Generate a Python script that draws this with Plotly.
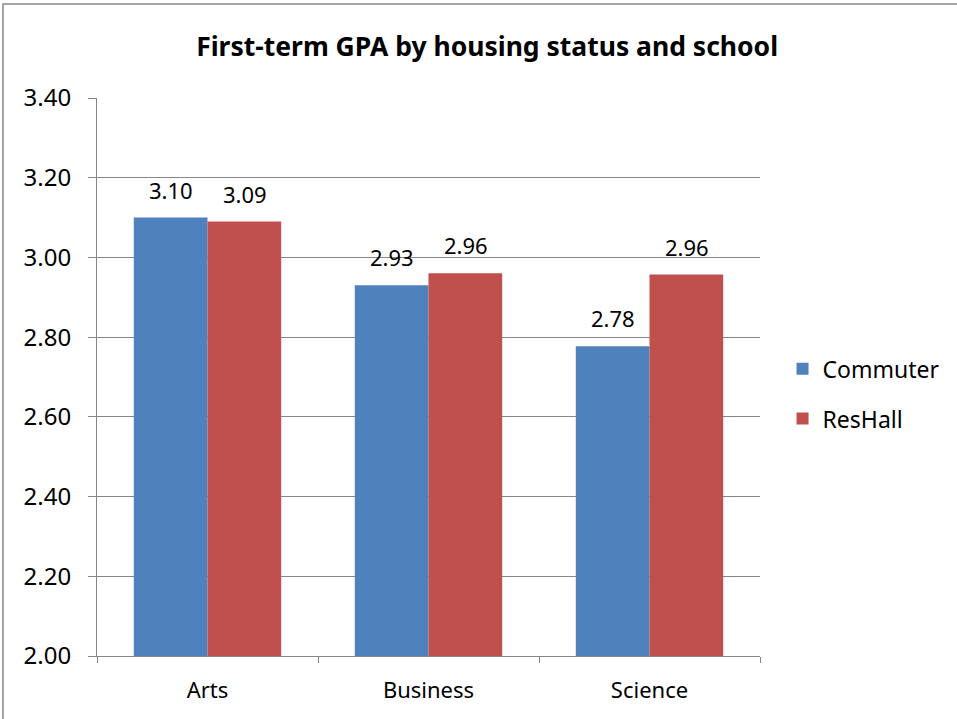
import plotly.graph_objects as go

schools = ["Arts", "Business", "Science"]
commuter = [3.10, 2.93, 2.777]
reshall = [3.09, 2.96, 2.957]
y_ticks = [2.0, 2.2, 2.4, 2.6, 2.8, 3.0, 3.2, 3.4]
y_tick_labels = ["2.00", "2.20", "2.40", "2.60", "2.80", "3.00", "3.20", "3.40"]

FONT = "Noto Sans"
GRID = "#868686"

fig = go.Figure()
series = [("Commuter", commuter, "#4F81BD", -37), ("ResHall", reshall, "#C0504D", 37)]
for name, vals, color, dx in series:
    fig.add_trace(go.Bar(
        name=name, x=schools, y=vals, marker=dict(color=color, line=dict(width=0)),
        legendgroup=name, hoverinfo="x+y+name",
    ))
    for s, v in zip(schools, vals):
        fig.add_annotation(x=s, y=v, xref="x", yref="y", text=f"{v:.2f}",
                           showarrow=False, xshift=dx, yshift=28, yanchor="middle",
                           font=dict(family=FONT, size=22, color="black"))

fig.update_layout(
    width=957, height=719,
    margin=dict(l=97, r=197, t=98, b=63),
    paper_bgcolor="white", plot_bgcolor="white",
    barmode="group", bargap=0.333, bargroupgap=0,
    title=dict(text="<b>First-term GPA by housing status and school</b>",
               font=dict(family=FONT, size=26.5, color="black"),
               x=0.509, xanchor="center", y=0.935, yanchor="middle"),
    legend=dict(x=1.034, xanchor="left", y=0.47, yanchor="middle",
                font=dict(family=FONT, size=23, color="black"),
                traceorder="grouped", tracegroupgap=17, itemwidth=30),
    showlegend=True,
)
fig.update_yaxes(range=[2.0, 3.4], tickvals=y_ticks, ticktext=y_tick_labels,
                 showgrid=True, gridcolor=GRID, gridwidth=1,
                 showline=True, linecolor=GRID, linewidth=1,
                 ticks="outside", ticklen=8, tickcolor=GRID,
                 ticklabelstandoff=12,
                 tickfont=dict(family=FONT, size=24, color="black"), zeroline=False)
fig.update_xaxes(showline=True, linecolor=GRID, linewidth=1,
                 ticks="outside", ticklen=6, tickcolor=GRID, tickson="boundaries",
                 ticklabelstandoff=15,
                 tickfont=dict(family=FONT, size=22, color="black"))
fig.add_shape(type="rect", xref="paper", yref="paper",
              x0=-0.1418, x1=1.4, y0=-0.2, y1=1.1685,
              line=dict(color=GRID, width=1.5), fillcolor="rgba(0,0,0,0)", layer="above")

fig.write_html("out.html", config={"displayModeBar": False},
               post_script="document.body.style.margin='0';")
